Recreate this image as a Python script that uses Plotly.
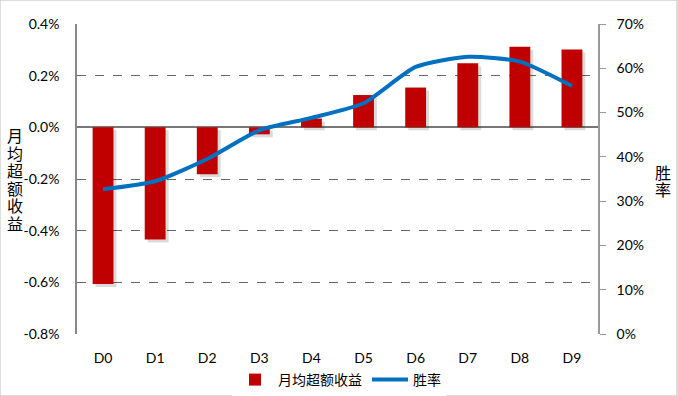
import plotly.graph_objects as go

categories = ["D0", "D1", "D2", "D3", "D4", "D5", "D6", "D7", "D8", "D9"]
excess_return = [-0.606, -0.434, -0.182, -0.027, 0.034, 0.125, 0.154, 0.248, 0.312, 0.301]  # %
win_rate = [32.7, 34.5, 39.5, 46.0, 48.8, 52.1, 60.3, 62.6, 61.5, 56.0]  # %

left_ticks = [0.4, 0.2, 0.0, -0.2, -0.4, -0.6, -0.8]
right_ticks = [0, 10, 20, 30, 40, 50, 60, 70]
left_title = "月均超额收益"
right_title = "胜率"

FONT = "Lato, 'Noto Sans CJK SC', sans-serif"
CJK = "'Noto Sans CJK SC', sans-serif"

L, R, T, B = 77, 80, 24, 62
W, H = 678, 396
PW, PH = W - L - R, H - T - B

# shadow offset (px -> data units)
shadow_dy = 3 * 1.2 / PH
shadow_dx = 3 / (PW / len(categories))

fig = go.Figure()
fig.add_trace(go.Bar(
    x=categories, y=excess_return, base=[-shadow_dy] * len(categories),
    marker=dict(color="rgba(0,0,0,0.14)", line=dict(width=0)),
    width=0.4, offset=-0.2 + shadow_dx, showlegend=False, hoverinfo="skip",
    yaxis="y",
))
fig.add_trace(go.Bar(
    x=categories, y=excess_return, name="月均超额收益",
    marker=dict(color="#C00000", line=dict(width=0)), width=0.4, offset=-0.2,
    yaxis="y",
))
fig.add_trace(go.Scatter(
    x=categories, y=win_rate, name="胜率", mode="lines",
    line=dict(color="#0070C0", width=4, shape="spline", smoothing=0.6),
    yaxis="y2",
))

annotations = []
for i, ch in enumerate(left_title):
    annotations.append(dict(text=ch, xref="paper", yref="paper",
                            x=(14.5 - L) / PW, y=1 - (135 + i * 17.6 - T) / PH,
                            xanchor="center", yanchor="middle", showarrow=False,
                            borderpad=0, font=dict(family=CJK, size=16)))
for i, ch in enumerate(right_title):
    annotations.append(dict(text=ch, xref="paper", yref="paper",
                            x=(662.5 - L) / PW, y=1 - (171.5 + i * 17.6 - T) / PH,
                            xanchor="center", yanchor="middle", showarrow=False,
                            borderpad=0, font=dict(family=CJK, size=16)))

fig.update_layout(
    width=W, height=H,
    barmode="overlay",
    margin=dict(l=L, r=R, t=T, b=B, autoexpand=False),
    paper_bgcolor="white", plot_bgcolor="white",
    font=dict(family=FONT, size=14, color="#000000"),
    showlegend=True,
    legend=dict(orientation="h", x=0.5, xanchor="center", xref="container",
                y=(H - 380) / H, yanchor="middle", yref="container",
                font=dict(family=CJK, size=14), itemwidth=36, traceorder="normal"),
    xaxis=dict(showgrid=False, showline=False, ticks="", zeroline=False,
               tickfont=dict(family=FONT, size=14), ticklabelstandoff=14),
    yaxis=dict(range=[-0.8, 0.4], tickvals=left_ticks,
               ticktext=[f"{v:.1f}%" for v in left_ticks],
               showgrid=True, gridcolor="#666666", griddash="dash", gridwidth=1,
               zeroline=True, zerolinecolor="#777777", zerolinewidth=1.5,
               showline=True, linecolor="#888888", linewidth=1.5, ticks="",
               ticklabelstandoff=13),
    yaxis2=dict(range=[0, 70], tickvals=right_ticks,
                ticktext=[f"{v}%" for v in right_ticks],
                overlaying="y", side="right", showgrid=False, zeroline=False,
                showline=True, linecolor="#999999", linewidth=1.5,
                ticks="outside", ticklen=6, tickcolor="#999999",
                ticklabelstandoff=8),
    shapes=[dict(type="rect", xref="paper", yref="paper", x0=-L / PW, x1=1 + (R - 1) / PW,
                 y0=-B / PH, y1=1 + T / PH, line=dict(color="#BBBBBB", width=1))],
    annotations=annotations,
)

fig.write_html("out.html", config={"displayModeBar": False},
               post_script="document.body.style.margin='0';document.body.style.overflow='hidden';")
